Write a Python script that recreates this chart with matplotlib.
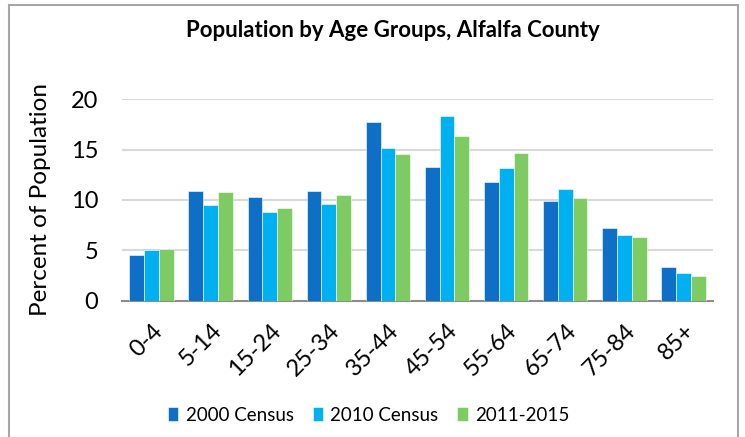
import matplotlib.pyplot as plt
import numpy as np

plt.rcParams['font.family'] = ['Lato', 'DejaVu Sans']

age_groups = ['0-4', '5-14', '15-24', '25-34', '35-44', '45-54',
              '55-64', '65-74', '75-84', '85+']
census_2000 = [4.5, 10.9, 10.3, 10.9, 17.8, 13.3, 11.8, 9.9, 7.2, 3.3]
census_2010 = [5.0, 9.5, 8.8, 9.6, 15.2, 18.4, 13.2, 11.1, 6.5, 2.7]
acs_2011_2015 = [5.1, 10.8, 9.2, 10.5, 14.6, 16.4, 14.7, 10.2, 6.3, 2.4]

series = [('2000 Census', census_2000, '#0F6FC6'),
          ('2010 Census', census_2010, '#00B0F0'),
          ('2011-2015', acs_2011_2015, '#7DCB62')]

fig = plt.figure(figsize=(7.45, 4.37), dpi=100)
ax = fig.add_axes([122 / 745, 1 - 300.5 / 437, 591 / 745, 201 / 437])

x = np.arange(len(age_groups))
w = 0.25
for i, (name, vals, col) in enumerate(series):
    ax.bar(x + (i - 1) * w, vals, w, color=col, label=name,
           edgecolor='white', linewidth=0.4, zorder=3)

ax.set_xlim(-0.5, len(age_groups) - 0.5)
ax.set_ylim(0, 20)
ax.set_yticks([0, 5, 10, 15, 20])
ax.yaxis.grid(True, color='#d9d9d9', linewidth=1.5, zorder=0)
for s in ['top', 'right', 'left']:
    ax.spines[s].set_visible(False)
ax.spines['bottom'].set_color('#8c8c8c')
ax.spines['bottom'].set_linewidth(1.5)
ax.tick_params(axis='both', length=0, labelsize=17)
ax.tick_params(axis='y', pad=17)
ax.set_xticks(x)
ax.set_xticklabels(age_groups, rotation=45, ha='right', rotation_mode='anchor')
ax.tick_params(axis='x', pad=14)
ax.set_ylabel('Percent of Population', fontsize=17.5, labelpad=14)

fig.text(0.528, 0.93, 'Population by Age Groups, Alfalfa County',
         ha='center', va='center', fontsize=16, fontweight='bold')

fig.legend(loc='center', bbox_to_anchor=(0.495, 0.05), ncol=3, frameon=False,
           fontsize=13.5, handlelength=0.55, handleheight=0.8,
           handletextpad=0.4, columnspacing=1.0)

border = plt.Rectangle((9 / 745, -0.1), 729 / 745, 1 - 5 / 437 + 0.1,
                       transform=fig.transFigure, fill=False,
                       edgecolor='#a6a6a6', linewidth=1.5)
fig.add_artist(border)

fig.savefig('out.png', dpi=100)
